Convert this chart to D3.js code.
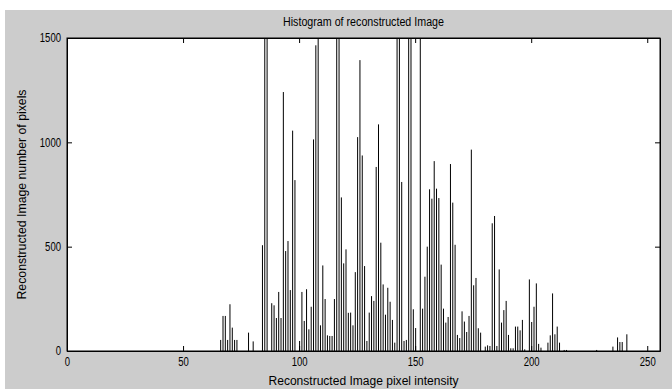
<!DOCTYPE html>
<html>
<head>
<meta charset="utf-8">
<script src="https://cdn.jsdelivr.net/npm/d3@7"></script>
<style>
  body { margin: 0; background: #fff; }
  svg text { font-family: "Liberation Sans Narrow", "Arial Narrow", "Liberation Sans", Arial, sans-serif; fill: #000; }
</style>
</head>
<body>
<svg id="chart" width="672" height="391"></svg>
<script>
// chart text
const title = "Histogram of reconstructed Image";
const xLabel = "Reconstructed Image pixel intensity";
const yLabel = "Reconstructed Image number of pixels";

// histogram bins (pixel intensity) and counts
// counts above 1500 are cut by the axis, so they are only "over the top"
const intensity = [66, 67, 68, 69, 70, 71, 72, 73, 78, 80, 84, 85, 86, 88, 89, 90, 91, 92, 93, 94,
  95, 96, 97, 98, 100, 101, 102, 103, 104, 105, 106, 107, 108, 109, 110, 111, 112, 113, 114, 115,
  116, 117, 118, 119, 120, 121, 122, 123, 124, 125, 126, 127, 128, 129, 130, 131, 132, 133, 134, 135,
  136, 137, 138, 139, 140, 141, 142, 143, 144, 145, 146, 147, 148, 149, 150, 152, 153, 154, 155, 156,
  157, 158, 159, 160, 161, 162, 163, 164, 165, 166, 167, 168, 169, 170, 171, 172, 173, 174, 175, 176,
  177, 178, 180, 181, 182, 183, 184, 185, 186, 187, 188, 189, 190, 191, 192, 193, 194, 195, 196, 197,
  199, 200, 201, 202, 203, 204, 207, 208, 209, 210, 211, 212, 214, 215, 228, 235, 237, 238, 239, 241];
const pixelCount = [53, 168, 168, 53, 224, 112, 53, 53, 88, 46, 507, 1800, 1800, 229, 219, 158, 283, 158, 1241, 479,
  527, 292, 1056, 819, 48, 283, 144, 296, 104, 212, 1014, 1465, 1800, 123, 410, 249, 75, 72, 72, 249,
  1800, 1800, 736, 420, 487, 183, 184, 123, 378, 1025, 1394, 937, 407, 48, 184, 263, 240, 882, 1086, 519,
  319, 174, 303, 236, 149, 40, 1800, 1800, 810, 48, 53, 1800, 1800, 200, 110, 1800, 203, 356, 500, 775,
  730, 910, 778, 733, 414, 203, 136, 163, 896, 711, 509, 77, 62, 190, 141, 91, 168, 965, 315, 350,
  109, 88, 21, 27, 24, 612, 647, 24, 391, 136, 196, 240, 77, 13, 13, 117, 117, 99, 149, 8,
  343, 139, 212, 324, 34, 16, 40, 75, 276, 80, 117, 40, 5, 5, 5, 21, 65, 43, 43, 80];

const xTicks = [0, 50, 100, 150, 200, 250];
const yTicks = [0, 500, 1000, 1500];

const svg = d3.select("#chart");
const margin = {top: 38, left: 67};
const width = 593, height = 313;
const digitW = 5.3; // narrow matlab digits

// grey figure background
svg.append("rect")
  .attr("x", 5).attr("y", 10)
  .attr("width", 667).attr("height", 379)
  .attr("fill", "#cccccc");

const g = svg.append("g")
  .attr("transform", "translate(" + margin.left + "," + margin.top + ")");

g.append("rect")
  .attr("width", width).attr("height", height)
  .attr("fill", "#fff");

const x = d3.scaleLinear().domain([0, 255.5]).range([0, width]);
const y = d3.scaleLinear().domain([0, 1500]).range([height, 0]);

g.append("clipPath").attr("id", "plotArea")
  .append("rect").attr("width", width).attr("height", height);

const data = intensity.map((v, i) => ({v: v, c: pixelCount[i]}));

// stems of the histogram
g.append("g")
  .attr("clip-path", "url(#plotArea)")
  .selectAll("line")
  .data(data)
  .enter()
  .append("line")
  .attr("x1", d => x(d.v) + 0.5)
  .attr("x2", d => x(d.v) + 0.5)
  .attr("y1", y(0))
  .attr("y2", d => y(d.c))
  .attr("stroke", "#000")
  .attr("stroke-width", 1);

// axes, ticks pointing inward like matlab
g.append("g")
  .attr("transform", "translate(0," + height + ")")
  .call(d3.axisBottom(x).tickValues(xTicks).tickFormat(d3.format("d")).tickSize(-5).tickSizeOuter(0).tickPadding(6));
g.append("g")
  .call(d3.axisLeft(y).tickValues(yTicks).tickFormat(d3.format("d")).tickSize(-5).tickSizeOuter(0).tickPadding(6));
g.append("g")
  .call(d3.axisTop(x).tickValues(xTicks).tickSize(-5).tickSizeOuter(0).tickFormat(""));
g.append("g")
  .attr("transform", "translate(" + width + ",0)")
  .call(d3.axisRight(y).tickValues(yTicks).tickSize(-5).tickSizeOuter(0).tickFormat(""));

g.selectAll(".tick text")
  .attr("font-size", 12)
  .attr("lengthAdjust", "spacingAndGlyphs")
  .attr("textLength", function() { return this.textContent.length * digitW; });
g.selectAll(".domain").attr("stroke", "#000");
g.selectAll(".tick line").attr("stroke", "#000");

g.append("rect")
  .attr("width", width).attr("height", height)
  .attr("fill", "none").attr("stroke", "#000");

svg.append("text")
  .attr("x", margin.left + width / 2).attr("y", 26)
  .attr("text-anchor", "middle").attr("font-size", 12)
  .attr("textLength", 161).attr("lengthAdjust", "spacingAndGlyphs")
  .text(title);

svg.append("text")
  .attr("x", margin.left + width / 2).attr("y", 385)
  .attr("text-anchor", "middle").attr("font-size", 12)
  .attr("textLength", 190).attr("lengthAdjust", "spacingAndGlyphs")
  .text(xLabel);

svg.append("text")
  .attr("transform", "translate(26," + (margin.top + height / 2) + ")rotate(-90)")
  .attr("text-anchor", "middle").attr("font-size", 12)
  .attr("textLength", 210).attr("lengthAdjust", "spacingAndGlyphs")
  .text(yLabel);
</script>
</body>
</html>
